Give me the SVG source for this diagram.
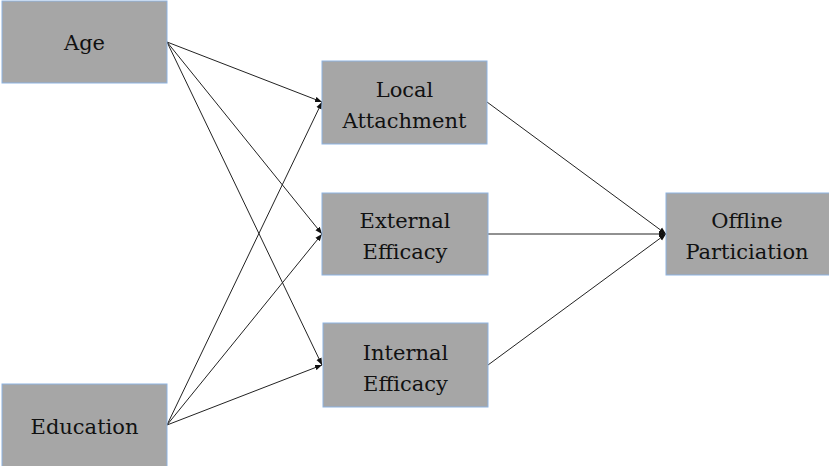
<svg xmlns="http://www.w3.org/2000/svg" width="829" height="466" viewBox="0 0 829 466">
<style>
.box{fill:#a6a6a6;stroke:#8db3e2;stroke-width:1}
.t{font-family:'DejaVu Serif','Liberation Serif',serif;font-size:21px;fill:#111;text-anchor:middle}
.c{stroke:#222;stroke-width:1;fill:none;marker-end:url(#ah)}
</style>
<defs>
<marker id="ah" viewBox="0 0 10 10" refX="10" refY="5" markerWidth="7" markerHeight="7" markerUnits="userSpaceOnUse" orient="auto">
<path d="M0,1 L10,5 L0,9 z" fill="#111"/>
</marker>
</defs>
<rect width="829" height="466" fill="#fff"/>
<g id="connectors">
<line class="c" x1="167" y1="42" x2="322" y2="102"/>
<line class="c" x1="167" y1="42" x2="322" y2="234"/>
<line class="c" x1="167" y1="42" x2="322" y2="365"/>
<line class="c" x1="167" y1="425" x2="322" y2="102"/>
<line class="c" x1="167" y1="425" x2="322" y2="234"/>
<line class="c" x1="167" y1="425" x2="322" y2="365"/>
<line class="c" x1="487" y1="102" x2="666" y2="234"/>
<line class="c" x1="487" y1="234" x2="666" y2="234"/>
<line class="c" x1="488" y1="365" x2="666" y2="234"/>
</g>
<g id="age"><rect class="box" x="2" y="1" width="165" height="82"/><text class="t" x="84.5" y="50">Age</text></g>
<g id="education"><rect class="box" x="2" y="384" width="165" height="90"/><text class="t" x="84.5" y="434">Education</text></g>
<g id="local"><rect class="box" x="322" y="61" width="165" height="83"/><text class="t" x="404.5" y="97">Local</text><text class="t" x="404.5" y="128">Attachment</text></g>
<g id="external"><rect class="box" x="322" y="193" width="166" height="82"/><text class="t" x="405" y="228">External</text><text class="t" x="405" y="259">Efficacy</text></g>
<g id="internal"><rect class="box" x="323" y="323" width="165" height="84"/><text class="t" x="405.5" y="360">Internal</text><text class="t" x="405.5" y="391">Efficacy</text></g>
<g id="offline"><rect class="box" x="666" y="193" width="170" height="82"/><text class="t" x="747" y="228">Offline</text><text class="t" x="747" y="259">Particiation</text></g>
</svg>
